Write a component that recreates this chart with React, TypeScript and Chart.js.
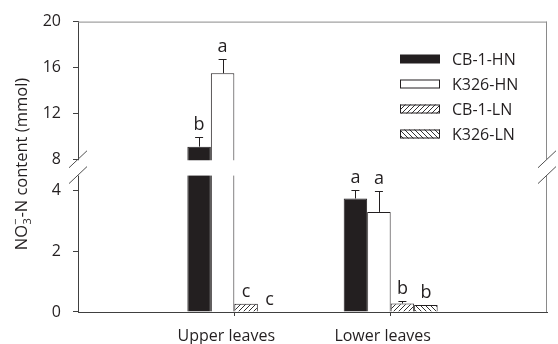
import { useEffect, useRef } from 'react';
import { Chart, registerables } from 'chart.js';

Chart.register(...registerables);

// ---------- data ----------
const categories = ['', 'Upper leaves', 'Lower leaves', ''];
const seriesNames = ['CB-1-HN', 'K326-HN', 'CB-1-LN', 'K326-LN'];

const cb1HN = [null, 9.1, 3.73, null];
const k326HN = [null, 15.5, 3.29, null];
const cb1LN = [null, 0.27, 0.28, null];
const k326LN = [null, 0, 0.23, null];

const cb1HNErr = [null, 0.8, 0.27, null];
const k326HNErr = [null, 1.2, 0.68, null];
const cb1LNErr = [null, 0, 0.08, null];
const k326LNErr = [null, 0, 0, null];

const cb1HNLetters = ['', 'b', 'a', ''];
const k326HNLetters = ['', 'a', 'a', ''];
const cb1LNLetters = ['', 'c', 'b', ''];
const k326LNLetters = ['', 'c', 'b', ''];

const lowerTicks = [0, 2, 4];
const upperTicks = [8, 12, 16, 20];
const LOWER_MIN = 0;
const LOWER_MAX = 4.5;
const UPPER_MIN = 6.62;
const UPPER_BREAK = 8;
const UPPER_MAX = 20;

// ---------- style ----------
const FONT = "'Open Sans', 'DejaVu Sans', sans-serif";
const INK = '#231f20';
const AXIS = '#404040';
const FRAME = '#8a8a8a';

function hatch(dir: number) {
  const s = 5;
  const c = document.createElement('canvas');
  c.width = s;
  c.height = s;
  const g = c.getContext('2d')!;
  g.fillStyle = '#ffffff';
  g.fillRect(0, 0, s, s);
  g.strokeStyle = '#333333';
  g.lineWidth = 1;
  g.beginPath();
  for (const o of [-s, 0, s]) {
    if (dir > 0) {
      g.moveTo(o, s);
      g.lineTo(o + s, 0);
    } else {
      g.moveTo(o, 0);
      g.lineTo(o + s, s);
    }
  }
  g.stroke();
  return g.createPattern(c, 'repeat')!;
}

export default function App() {
  const ref = useRef<HTMLCanvasElement>(null);

  useEffect(() => {
    const canvas = ref.current!;
    const values = [cb1HN, k326HN, cb1LN, k326LN];
    const errs = [cb1HNErr, k326HNErr, cb1LNErr, k326LNErr];
    const letters = [cb1HNLetters, k326HNLetters, cb1LNLetters, k326LNLetters];
    const fills: any[] = [INK, '#ffffff', hatch(1), hatch(-1)];

    const lowSets = seriesNames.map((name, i) => ({
      label: name,
      stack: name,
      yAxisID: 'yLow',
      xAxisID: 'x',
      data: values[i].map((v) => (v == null ? null : Math.min(v, LOWER_MAX))),
      backgroundColor: fills[i],
      borderColor: INK,
      borderWidth: (c: any) => {
        const v = values[i][c.dataIndex];
        return v != null && v > LOWER_MAX
          ? { top: 0, left: 1, right: 1, bottom: 0 }
          : { top: 1, left: 1, right: 1, bottom: 0 };
      },
    }));
    const upSets = seriesNames.map((name, i) => ({
      label: name + ' (upper)',
      stack: name,
      yAxisID: 'yUp',
      xAxisID: 'x',
      base: UPPER_MIN,
      data: values[i].map((v) => (v != null && v > UPPER_BREAK ? v : null)),
      backgroundColor: fills[i],
      borderColor: INK,
      borderWidth: { top: 1, left: 1, right: 1, bottom: 0 },
    }));

    const decor = {
      id: 'decor',
      afterDraw(chart: any) {
        const ctx = chart.ctx as CanvasRenderingContext2D;
        const area = chart.chartArea;
        const up = chart.scales.yUp;
        const low = chart.scales.yLow;
        const gapTop = up.getPixelForValue(UPPER_BREAK);
        const gapBottom = low.top;

        ctx.save();
        // white gap of the broken axis
        ctx.fillStyle = '#ffffff';
        ctx.fillRect(area.left - 2, gapTop + 1, area.right - area.left + 4, gapBottom - gapTop - 0.5);

        // frame top & right
        ctx.strokeStyle = FRAME;
        ctx.lineWidth = 1;
        ctx.beginPath();
        ctx.moveTo(area.left, area.top + 0.5);
        ctx.lineTo(area.right, area.top + 0.5);
        ctx.moveTo(area.right - 0.5, area.top);
        ctx.lineTo(area.right - 0.5, gapTop);
        ctx.moveTo(area.right - 0.5, gapBottom);
        ctx.lineTo(area.right - 0.5, area.bottom);
        ctx.stroke();

        // break marks
        ctx.strokeStyle = '#505050';
        ctx.beginPath();
        for (const xc of [area.left, area.right]) {
          for (const yc of [gapTop, gapBottom]) {
            ctx.moveTo(xc - 9, yc + 8.5);
            ctx.lineTo(xc + 9, yc - 8.5);
          }
        }
        ctx.stroke();

        // error bars & letters
        ctx.strokeStyle = INK;
        ctx.fillStyle = INK;
        ctx.font = `18px ${FONT}`;
        ctx.textAlign = 'center';
        ctx.textBaseline = 'alphabetic';
        for (let i = 0; i < seriesNames.length; i++) {
          for (let j = 0; j < categories.length; j++) {
            const v = values[i][j];
            if (v == null) continue;
            const isUp = v > UPPER_BREAK;
            const meta = chart.getDatasetMeta(isUp ? i + seriesNames.length : i);
            const el = meta.data[j];
            const sc = isUp ? up : low;
            const e = errs[i][j] || 0;
            const yv = sc.getPixelForValue(v);
            const ye = sc.getPixelForValue(v + e);
            if (e > 0) {
              ctx.beginPath();
              ctx.moveTo(Math.round(el.x) + 0.5, yv);
              ctx.lineTo(Math.round(el.x) + 0.5, ye);
              ctx.moveTo(el.x - 4, Math.round(ye) + 0.5);
              ctx.lineTo(el.x + 4, Math.round(ye) + 0.5);
              ctx.stroke();
            }
            const t = letters[i][j];
            if (t) ctx.fillText(t, el.x, ye - 7);
          }
        }

        // legend
        ctx.font = `16px ${FONT}`;
        ctx.textAlign = 'left';
        ctx.textBaseline = 'middle';
        seriesNames.forEach((name, i) => {
          const cy = 59 + i * 25;
          ctx.fillStyle = fills[i];
          ctx.fillRect(400, cy - 4.5, 40, 9);
          if (i > 0) {
            ctx.strokeStyle = INK;
            ctx.strokeRect(400.5, cy - 4, 39, 8);
          }
          ctx.fillStyle = INK;
          ctx.fillText(name, 452, cy + 1);
        });

        // y axis title with sub/superscript
        ctx.save();
        ctx.translate(27, 164);
        ctx.rotate(-Math.PI / 2);
        ctx.textBaseline = 'alphabetic';
        ctx.fillStyle = INK;
        ctx.font = `16.5px ${FONT}`;
        const a = 'NO';
        const b = '-N content (mmol)';
        const wa = ctx.measureText(a).width;
        const wb = ctx.measureText(b).width;
        ctx.font = `11px ${FONT}`;
        const ws = ctx.measureText('3').width + 1;
        const x0 = -(wa + ws + wb) / 2;
        ctx.font = `16.5px ${FONT}`;
        ctx.fillText(a, x0, 0);
        ctx.font = `11px ${FONT}`;
        ctx.fillText('3', x0 + wa + 0.5, 4);
        ctx.fillText('\u2212', x0 + wa, -8);
        ctx.font = `16.5px ${FONT}`;
        ctx.fillText(b, x0 + wa + ws, 0);
        ctx.restore();

        ctx.restore();
      },
    };

    const tickFont = { family: FONT, size: 16 };
    const chart = new Chart(canvas, {
      type: 'bar',
      data: { labels: categories, datasets: [...lowSets, ...upSets] as any },
      options: {
        responsive: false,
        animation: false,
        devicePixelRatio: 1,
        layout: { padding: { left: 0, right: 1, top: 19, bottom: 0 } },
        datasets: { bar: { categoryPercentage: 0.601, barPercentage: 1 } },
        plugins: { legend: { display: false }, tooltip: { enabled: false } },
        scales: {
          x: {
            type: 'category',
            offset: false,
            grid: {
              offset: false,
              drawOnChartArea: false,
              drawTicks: true,
              tickLength: 4,
              tickColor: (c: any) => (categories[c.index] ? AXIS : 'rgba(0,0,0,0)'),
            },
            border: { color: AXIS, width: 1 },
            ticks: { font: tickFont, color: INK, padding: 11, labelOffset: -8, autoSkip: false, maxRotation: 0 },
            afterFit: (s: any) => {
              s.height = 32;
            },
          },
          yUp: {
            type: 'linear',
            position: 'left',
            stack: 'y',
            stackWeight: 154.7,
            weight: 1,
            min: UPPER_MIN,
            max: UPPER_MAX,
            afterBuildTicks: (s: any) => {
              s.ticks = upperTicks.map((v) => ({ value: v }));
            },
            ticks: { font: tickFont, color: INK, padding: 12 },
            grid: { drawOnChartArea: false, drawTicks: true, tickLength: 5, tickColor: AXIS },
            border: { color: AXIS, width: 1 },
            afterFit: (s: any) => {
              s.width = 78;
            },
          },
          yLow: {
            type: 'linear',
            position: 'left',
            stack: 'y',
            stackWeight: 138,
            weight: 0,
            min: LOWER_MIN,
            max: LOWER_MAX,
            afterBuildTicks: (s: any) => {
              s.ticks = lowerTicks.map((v) => ({ value: v }));
            },
            ticks: { font: tickFont, color: INK, padding: 12 },
            grid: { drawOnChartArea: false, drawTicks: true, tickLength: 5, tickColor: AXIS },
            border: { color: AXIS, width: 1 },
            afterFit: (s: any) => {
              s.width = 78;
            },
          },
        } as any,
      },
      plugins: [decor],
    });
    return () => chart.destroy();
  }, []);

  return (
    <div style={{ position: 'absolute', left: 0, top: 0, width: 558, height: 344, background: '#fff' }}>
      <canvas ref={ref} width={558} height={344} style={{ display: 'block' }} />
    </div>
  );
}
